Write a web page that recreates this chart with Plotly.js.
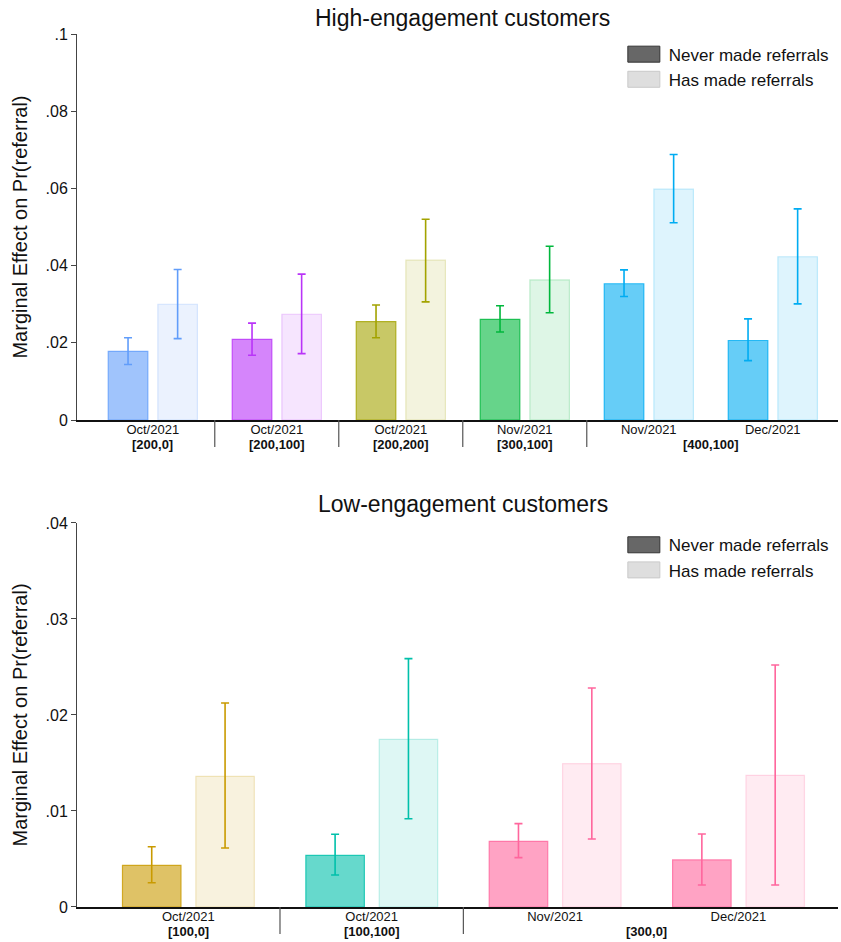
<!DOCTYPE html>
<html>
<head>
<meta charset="utf-8">
<script src="https://cdn.plot.ly/plotly-3.0.1.min.js"></script>
<style>html,body{margin:0;padding:0;background:#fff}</style>
</head>
<body>
<div id="chart" style="width:841px;height:942px"></div>
<script>
// High-engagement customers: one group per bar pair
const topMonths  = ['Oct/2021', 'Oct/2021', 'Oct/2021', 'Nov/2021', 'Nov/2021', 'Dec/2021'];
const topCohorts = ['[200,0]', '[200,100]', '[200,200]', '[300,100]', '[400,100]', '[400,100]'];
const topNever   = [0.0178, 0.0209, 0.0255, 0.0261, 0.0353, 0.0206];
const topNeverLo = [0.0144, 0.0168, 0.0213, 0.0228, 0.0320, 0.0154];
const topNeverHi = [0.0213, 0.0251, 0.0298, 0.0296, 0.0389, 0.0262];
const topHas     = [0.0300, 0.0274, 0.0414, 0.0363, 0.0598, 0.0423];
const topHasLo   = [0.0211, 0.0172, 0.0306, 0.0278, 0.0511, 0.0301];
const topHasHi   = [0.0390, 0.0378, 0.0520, 0.0450, 0.0688, 0.0547];
const topColors  = ['#619DFA', '#B934F8', '#A3A300', '#00B73C', '#00ACF2', '#00ACF2'];
const topTickVals = [0, 0.02, 0.04, 0.06, 0.08, 0.1];
const topTickText = ['0', '.02', '.04', '.06', '.08', '.1'];

// Low-engagement customers
const botMonths  = ['Oct/2021', 'Oct/2021', 'Nov/2021', 'Dec/2021'];
const botCohorts = ['[100,0]', '[100,100]', '[300,0]', '[300,0]'];
const botNever   = [0.00434, 0.00538, 0.00684, 0.00490];
const botNeverLo = [0.00253, 0.00333, 0.00514, 0.00229];
const botNeverHi = [0.00628, 0.00757, 0.00868, 0.00760];
const botHas     = [0.01361, 0.01747, 0.01493, 0.01372];
const botHasLo   = [0.00615, 0.00920, 0.00708, 0.00229];
const botHasHi   = [0.02125, 0.02587, 0.02281, 0.02521];
const botColors  = ['#C99A00', '#00C0AA', '#FF669D', '#FF669D'];
const botTickVals = [0, 0.01, 0.02, 0.03, 0.04];
const botTickText = ['0', '.01', '.02', '.03', '.04'];

const seriesNames = ['Never made referrals', 'Has made referrals'];

const FONT = 'Liberation Sans, Arial, Helvetica, sans-serif';
const BAR_W = 0.319;
const OFF_NEVER = -0.359;
const OFF_HAS = 0.041;

function rgba(hex, a) {
  const n = parseInt(hex.slice(1), 16);
  return `rgba(${(n >> 16) & 255},${(n >> 8) & 255},${n & 255},${a})`;
}

function barTraces(vals, lo, hi, colors, light, xa, ya) {
  return vals.map((v, i) => ({
    type: 'bar',
    x: [i], y: [v],
    xaxis: xa, yaxis: ya,
    width: BAR_W,
    offset: light ? OFF_HAS : OFF_NEVER,
    marker: {
      color: rgba(colors[i], light ? 0.13 : 0.6),
      line: {color: rgba(colors[i], light ? 0.22 : 0.8), width: 1.2}
    },
    error_y: {
      type: 'data', symmetric: false,
      array: [hi[i] - v], arrayminus: [v - lo[i]],
      color: colors[i], thickness: 1.6, width: 4
    },
    showlegend: false, hoverinfo: 'skip'
  }));
}

function legendTraces(legendId, xa, ya) {
  return [
    {type: 'bar', x: [null], y: [null], xaxis: xa, yaxis: ya, name: seriesNames[0], legend: legendId,
     marker: {color: '#676767', line: {color: '#333333', width: 1}}},
    {type: 'bar', x: [null], y: [null], xaxis: xa, yaxis: ya, name: seriesNames[1], legend: legendId,
     marker: {color: '#dedede', line: {color: '#c9c9c9', width: 1}}}
  ];
}

// Plot region geometry (paper fractions)
const TOP_DOM = [0.5578, 1];
const BOT_DOM = [0, 0.4399];
const SEP_DROP = 27 / 873;

function cohortDecor(cohorts, xa, domBottom) {
  const anns = [], shapes = [];
  let start = 0;
  for (let i = 1; i <= cohorts.length; i++) {
    if (i === cohorts.length || cohorts[i] !== cohorts[start]) {
      anns.push({
        xref: xa, yref: 'paper', x: (start + i - 1) / 2, y: domBottom - 15 / 873,
        text: '<b>' + cohorts[start] + '</b>', showarrow: false,
        yanchor: 'top', font: {family: FONT, size: 13, color: '#111'}
      });
      if (i < cohorts.length) {
        shapes.push({
          type: 'line', xref: xa, yref: 'paper',
          x0: i - 0.5, x1: i - 0.5, y0: domBottom, y1: domBottom - SEP_DROP,
          line: {color: '#555', width: 1.2}
        });
      }
      start = i;
    }
  }
  return {anns, shapes};
}

const data = [].concat(
  barTraces(topNever, topNeverLo, topNeverHi, topColors, false, 'x', 'y'),
  barTraces(topHas, topHasLo, topHasHi, topColors, true, 'x', 'y'),
  barTraces(botNever, botNeverLo, botNeverHi, botColors, false, 'x2', 'y2'),
  barTraces(botHas, botHasLo, botHasHi, botColors, true, 'x2', 'y2'),
  legendTraces('legend', 'x', 'y'),
  legendTraces('legend2', 'x2', 'y2')
);

const topDecor = cohortDecor(topCohorts, 'x', TOP_DOM[0]);
const botDecor = cohortDecor(botCohorts, 'x2', BOT_DOM[0]);

function xAxis(months, range) {
  return {
    range: range, domain: [0, 1],
    tickvals: months.map((_, i) => i), ticktext: months,
    ticks: '', showgrid: false, zeroline: false,
    showline: true, linecolor: '#111', linewidth: 1.5,
    ticklabelstandoff: -3,
    tickfont: {family: FONT, size: 13, color: '#111'},
    fixedrange: true
  };
}

function yAxis(vals, text, range, dom) {
  return {
    domain: dom, range: range,
    tickvals: vals, ticktext: text,
    ticks: 'outside', ticklen: 5, tickcolor: '#444', tickwidth: 1,
    showline: true, linecolor: '#444', linewidth: 1,
    showgrid: false, zeroline: false,
    tickfont: {family: FONT, size: 16, color: '#111'},
    title: {text: 'Marginal Effect on Pr(referral)', font: {family: FONT, size: 20, color: '#111'}, standoff: 12},
    fixedrange: true
  };
}

const legendBase = {
  x: 0.712, xanchor: 'left', yanchor: 'top',
  font: {family: FONT, size: 17, color: '#111'}, bgcolor: 'rgba(0,0,0,0)',
  tracegroupgap: 0, itemwidth: 40
};

const layout = {
  width: 841, height: 942,
  margin: {l: 77, r: 3, t: 34, b: 35},
  paper_bgcolor: '#fff', plot_bgcolor: '#fff',
  barmode: 'overlay',
  font: {family: FONT, color: '#111'},
  xaxis: Object.assign(xAxis(topMonths, [-0.611, 5.526]), {anchor: 'y'}),
  yaxis: Object.assign(yAxis(topTickVals, topTickText, [0, 0.1], TOP_DOM), {anchor: 'x'}),
  xaxis2: Object.assign(xAxis(botMonths, [-0.607, 3.543]), {anchor: 'y2'}),
  yaxis2: Object.assign(yAxis(botTickVals, botTickText, [0, 0.04], BOT_DOM), {anchor: 'x2'}),
  legend: Object.assign({y: 0.997}, legendBase),
  legend2: Object.assign({y: 0.435}, legendBase),
  annotations: [
    {xref: 'paper', yref: 'paper', x: 0.507, y: 1.0 + 16 / 873, yanchor: 'middle', showarrow: false,
     text: 'High-engagement customers', font: {family: FONT, size: 23, color: '#111'}},
    {xref: 'paper', yref: 'paper', x: 0.507, y: BOT_DOM[1] + 19 / 873, yanchor: 'middle', showarrow: false,
     text: 'Low-engagement customers', font: {family: FONT, size: 23, color: '#111'}}
  ].concat(topDecor.anns, botDecor.anns),
  shapes: topDecor.shapes.concat(botDecor.shapes)
};

// Legend keys drawn as wide boxes (keeps Plotly's own centring transform)
const KEY_PATH = 'M16,8H-16V-8H16Z';
function widenKeys(gd) {
  gd.querySelectorAll('.legendpoints path').forEach(p => p.setAttribute('d', KEY_PATH));
}

const gd = document.getElementById('chart');
Plotly.newPlot(gd, data, layout, {displayModeBar: false, staticPlot: true}).then(() => {
  widenKeys(gd);
  gd.on('plotly_afterplot', () => widenKeys(gd));
});
</script>
</body>
</html>
